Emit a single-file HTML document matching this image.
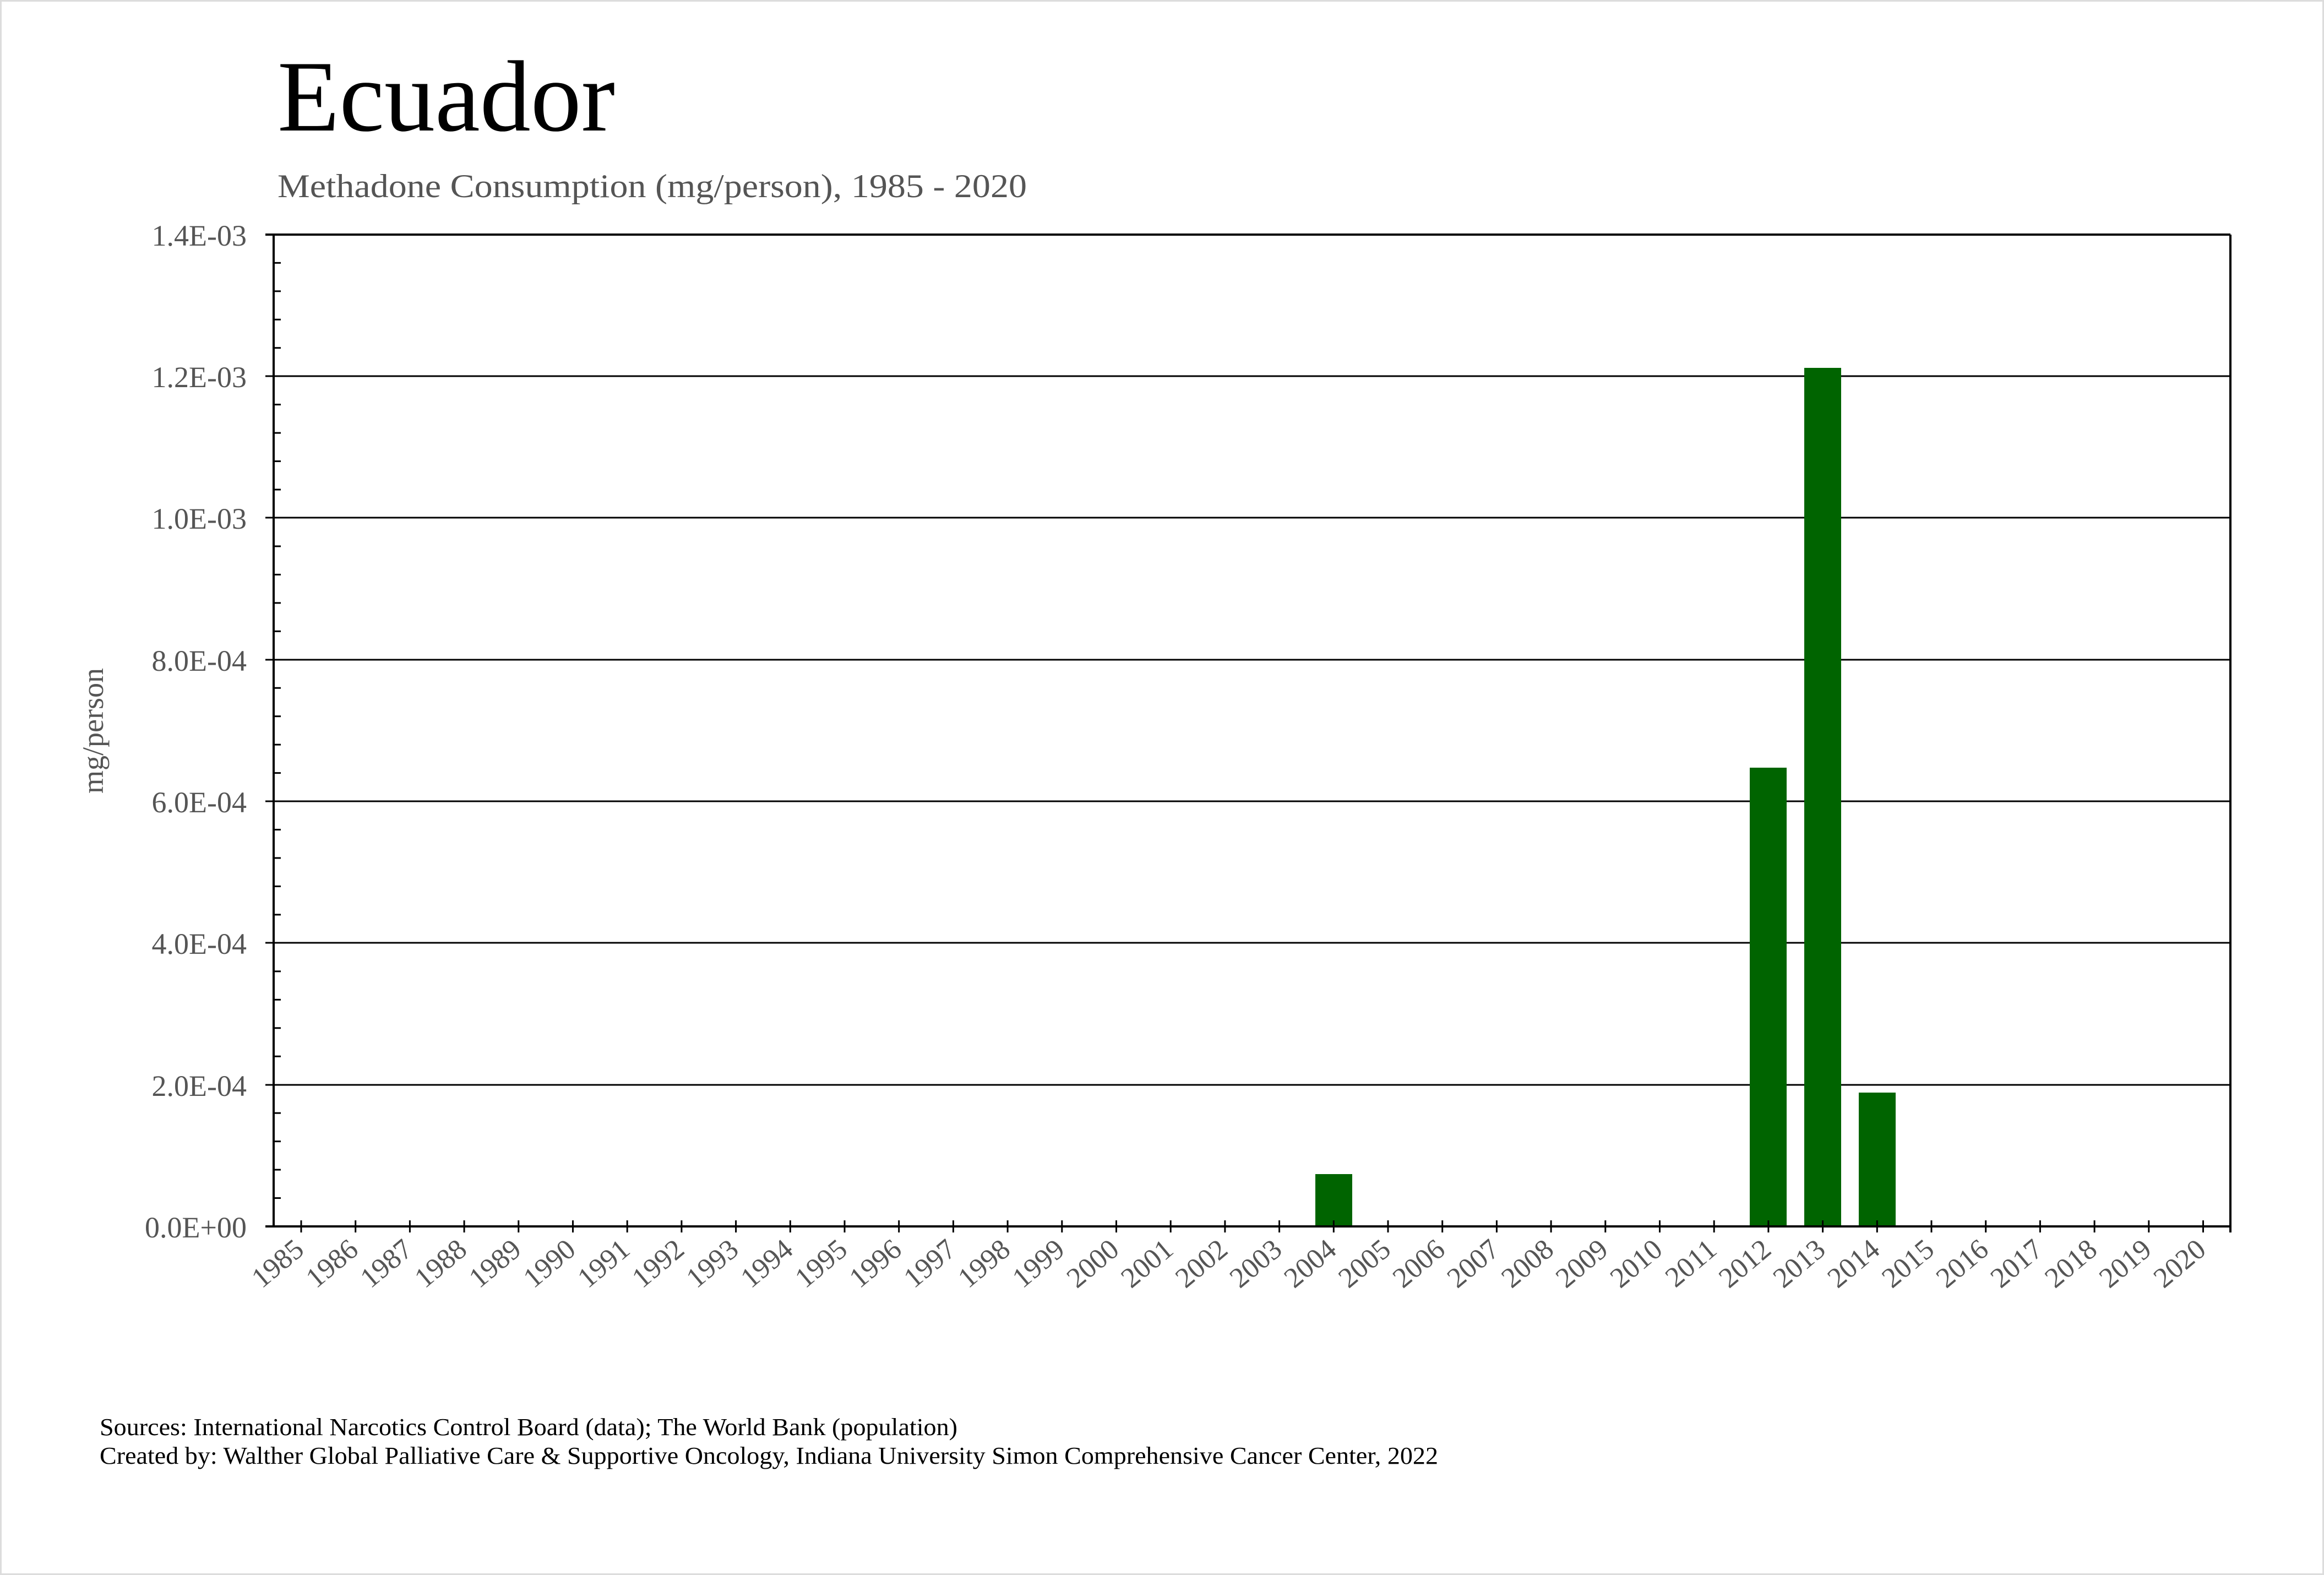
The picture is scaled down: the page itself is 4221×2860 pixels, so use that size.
<!DOCTYPE html>
<html><head><meta charset="utf-8"><style>
html,body{margin:0;padding:0;background:#fff;}
svg{display:block;}
</style></head><body>
<svg width="4221" height="2860" viewBox="0 0 4221 2860" xmlns="http://www.w3.org/2000/svg" font-family="Liberation Serif, serif">
<rect x="1" y="1" width="4219" height="2858" fill="#fff" stroke="#dcdcdc" stroke-width="4"/>
<text x="504" y="237" font-size="184" fill="#000">Ecuador</text>
<text x="504" y="358" font-size="60" fill="#555" textLength="1361" lengthAdjust="spacingAndGlyphs">Methadone Consumption (mg/person), 1985 - 2020</text>
<g stroke="#000" stroke-width="3">
<line x1="482" y1="1970" x2="4051" y2="1970"/>
<line x1="482" y1="1712" x2="4051" y2="1712"/>
<line x1="482" y1="1455" x2="4051" y2="1455"/>
<line x1="482" y1="1198" x2="4051" y2="1198"/>
<line x1="482" y1="940" x2="4051" y2="940"/>
<line x1="482" y1="683" x2="4051" y2="683"/>
</g>
<g fill="#006400">
<rect x="2389" y="2132" width="67" height="95"/>
<rect x="3178" y="1394" width="67" height="833"/>
<rect x="3277" y="668" width="67" height="1559"/>
<rect x="3376" y="1984" width="67" height="243"/>
</g>
<g stroke="#000" stroke-width="4" fill="none">
<line x1="482" y1="426" x2="4051" y2="426"/>
<line x1="482" y1="2227" x2="4051" y2="2227"/>
<line x1="497" y1="426" x2="497" y2="2227"/>
<line x1="4051" y1="426" x2="4051" y2="2238"/>
</g>
<g id="ticks" stroke="#000" stroke-width="3"></g>
<g id="ylab" font-size="54" fill="#555" text-anchor="end">
<text x="448" y="446">1.4E-03</text>
<text x="448" y="703">1.2E-03</text>
<text x="448" y="960">1.0E-03</text>
<text x="448" y="1218">8.0E-04</text>
<text x="448" y="1475">6.0E-04</text>
<text x="448" y="1732">4.0E-04</text>
<text x="448" y="1990">2.0E-04</text>
<text x="448" y="2247">0.0E+00</text>
</g>
<text transform="translate(187,1327) rotate(-90)" font-size="54" fill="#555" text-anchor="middle">mg/person</text>
<g id="xlab" font-size="52" fill="#555" text-anchor="end"></g>
<text x="181" y="2606" font-size="44" fill="#000" textLength="1558" lengthAdjust="spacingAndGlyphs">Sources: International Narcotics Control Board (data); The World Bank (population)</text>
<text x="181" y="2658" font-size="44" fill="#000" textLength="2431" lengthAdjust="spacingAndGlyphs">Created by: Walther Global Palliative Care &amp; Supportive Oncology, Indiana University Simon Comprehensive Cancer Center, 2022</text>
<script>
var ns="http://www.w3.org/2000/svg";
var t=document.getElementById("ticks"),xl=document.getElementById("xlab");
function ln(x1,y1,x2,y2){var l=document.createElementNS(ns,"line");l.setAttribute("x1",x1);l.setAttribute("y1",y1);l.setAttribute("x2",x2);l.setAttribute("y2",y2);t.appendChild(l);}
for(var i=0;i<=35;i++){var x=547+i*98.7;ln(x,2216,x,2238);
var tx=document.createElementNS(ns,"text");tx.setAttribute("transform","translate("+(x+8)+",2274) rotate(-40)");tx.textContent=1985+i;xl.appendChild(tx);}
for(var k=0;k<35;k++){if(k%5==0)continue;var y=2227-k*51.46;ln(497,y,510,y);}
</script>
</svg>
</body></html>
